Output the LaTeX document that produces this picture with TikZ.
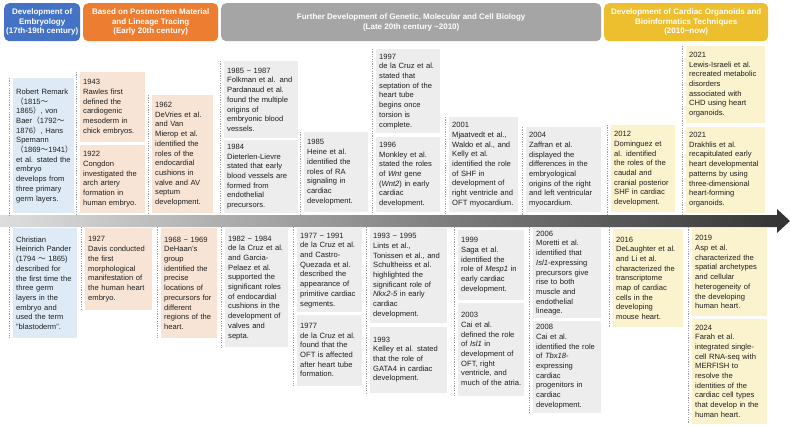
\documentclass[tikz,border=0pt]{standalone}
\usepackage{fontspec}
\setsansfont{Liberation Sans}
\newfontfamily\cjkfont{Noto Sans CJK SC}
\usetikzlibrary{positioning}

\definecolor{embblue}{HTML}{4472C4}
\definecolor{pmorange}{HTML}{ED7D31}
\definecolor{molgray}{HTML}{A5A5A5}
\definecolor{orgyellow}{HTML}{EDBF2E}
\definecolor{embfill}{HTML}{DEEBF7}
\definecolor{pmfill}{HTML}{F8E4D5}
\definecolor{molfill}{HTML}{EDEDED}
\definecolor{orgfill}{HTML}{FBF2CE}

\newcommand\fw[1]{{\cjkfont #1}}

\begin{document}
\begin{tikzpicture}[
  x=1pt, y=-1pt,
  font=\sffamily,
  phase/.style={rectangle, rounded corners=5pt, anchor=north west, inner xsep=1pt, inner ysep=2pt,
                text=white, align=center, font=\sffamily\bfseries\fontsize{8}{9.6}\selectfont},
  ev/.style={rectangle, anchor=north west, inner xsep=3pt, inner ysep=1.5pt, align=left,
             text=black!88, font=\sffamily\fontsize{7.6}{9.7}\selectfont},
  emb/.style={ev, fill=embfill},
  pm/.style={ev, fill=pmfill},
  mol/.style={ev, fill=molfill},
  org/.style={ev, fill=orgfill},
  sep/.style={draw=black!38, line width=0.6pt, dash pattern=on 1.2pt off 1.2pt}
]
\useasboundingbox (0,0) rectangle (790,426);

% phases
\node[phase, fill=embblue, minimum width=76pt, minimum height=38pt] (p1) at (4,3)
  {Development of\\Embryology\\(17th-19th century)};
\node[phase, fill=pmorange, minimum width=135pt, minimum height=38pt] (p2) at (83,3)
  {Based on Postmortem Material\\and Lineage Tracing\\(Early 20th century)};
\node[phase, fill=molgray, minimum width=380pt, minimum height=38pt] (p3) at (221,3)
  {Further Development of Genetic, Molecular and Cell Biology\\(Late 20th century \textasciitilde2010)};
\node[phase, fill=orgyellow, minimum width=164pt, minimum height=38pt] (p4) at (604,3)
  {Development of Cardiac Organoids and\\Bioinformatics Techniques\\(2010\textasciitilde now)};

% timeline
\shade[left color=black!13, right color=black!80]
  (0,215) -- (777,215) -- (777,209) -- (790,221) -- (777,233) -- (777,227) -- (0,227) -- cycle;
\coordinate (bandtop) at (0,215);
\coordinate (bandbot) at (0,227);

% upper events
\node[emb, text width=55pt, minimum height=135pt] (t1) at (13,78)
  {Robert Remark\\\fw{（}1815\fw{～}\\1865\fw{）}, von\\Baer\fw{（}1792\fw{～}\\1876\fw{）}, Hans\\Spemann\\\fw{（}1869\fw{～}1941\fw{）}\\et al. stated the\\embryo\\develops from\\three primary\\germ layers.};
\node[pm, text width=59pt, minimum height=70pt] (t2a) at (80,72)
  {1943\\Rawles first\\defined the\\cardiogenic\\mesoderm in\\chick embryos.};
\node[pm, text width=59pt, minimum height=68pt, below=2.5pt of t2a] (t2b)
  {1922\\Congdon\\investigated the\\arch artery\\formation in\\human embryo.};
\node[pm, text width=55pt, minimum height=118pt] (t3) at (152,95)
  {1962\\DeVries et al.\\and Van\\Mierop et al.\\identified the\\roles of the\\endocardial\\cushions in\\valve and AV\\septum\\development.};
\node[mol, text width=68pt, minimum height=77pt] (t4a) at (224,61)
  {1985 \textasciitilde\ 1987\\Folkman et al. and\\Pardanaud et al.\\found the multiple\\origins of\\embryonic blood\\vessels.};
\node[mol, text width=68pt, minimum height=73pt, below=1.5pt of t4a] (t4b)
  {1984\\Dieterlen-Lievre\\stated that early\\blood vessels are\\formed from\\endothelial\\precursors.};
\node[mol, text width=58pt, minimum height=80pt] (t5) at (304,132)
  {1985\\Heine et al.\\identified the\\roles of RA\\signaling in\\cardiac\\development.};
\node[mol, text width=58pt, minimum height=84pt] (t6a) at (376,49)
  {1997\\de la Cruz et al.\\stated that\\septation of the\\heart tube\\begins once\\torsion is\\complete.};
\node[mol, text width=58pt, minimum height=75pt, below=3.5pt of t6a] (t6b)
  {1996\\Monkley et al.\\stated the roles\\of \textit{Wnt} gene\\(\textit{Wnt2}) in early\\cardiac\\development.};
\node[mol, text width=63pt, minimum height=95pt] (t7) at (449,117)
  {2001\\Mjaatvedt et al.,\\Waldo et al., and\\Kelly et al.\\identified the role\\of SHF in\\development of\\right ventricle and\\OFT myocardium.};
\node[mol, text width=69pt, minimum height=85pt] (t8) at (526,127)
  {2004\\Zaffran et al.\\displayed the\\differences in the\\embryological\\origins of the right\\and left ventricular\\myocardium.};
\node[org, text width=58pt, minimum height=87pt] (t9) at (611,125)
  {2012\\Dominguez et\\al. identified\\the roles of the\\caudal and\\cranial posterior\\SHF in cardiac\\development.};
\node[org, text width=73pt, minimum height=77pt] (t10a) at (686,46)
  {2021\\Lewis-Israeli et al.\\recreated metabolic\\disorders\\associated with\\CHD using heart\\organoids.};
\node[org, text width=73pt, minimum height=86pt, below=3pt of t10a] (t10b)
  {2021\\Drakhlis et al.\\recapitulated early\\heart developmental\\patterns by using\\three-dimensional\\heart-forming\\organoids.};

% lower events
\node[emb, text width=58pt, minimum height=110pt] (b1) at (13,228)
  {Christian\\Heinrich Pander\\(1794 \fw{～} 1865)\\described for\\the first time the\\three germ\\layers in the\\embryo and\\used the term\\"blastoderm".};
\node[pm, text width=61pt, minimum height=82pt] (b2) at (85,228)
  {1927\\Davis conducted\\the first\\morphological\\manifestation of\\the human heart\\embryo.};
\node[pm, text width=50pt, minimum height=110pt] (b3) at (161,228)
  {1968 \textasciitilde\ 1969\\DeHaan's\\group\\identified the\\precise\\locations of\\precursors for\\different\\regions of the\\heart.};
\node[mol, text width=57pt, minimum height=119pt] (b4) at (225,228)
  {1982 \textasciitilde\ 1984\\de la Cruz et al.\\and Garcia-\\Pelaez et al.\\supported the\\significant roles\\of endocardial\\cushions in the\\development of\\valves and\\septa.};
\node[mol, text width=59pt, minimum height=84pt] (b5a) at (297,228)
  {1977 \textasciitilde\ 1991\\de la Cruz et al.\\and Castro-\\Quezada et al.\\described the\\appearance of\\primitive cardiac\\segments.};
\node[mol, text width=59pt, minimum height=71pt, below=2pt of b5a] (b5b)
  {1977\\de la Cruz et al.\\found that the\\OFT is affected\\after heart tube\\formation.};
\node[mol, text width=71pt, minimum height=95pt] (b6a) at (370,228)
  {1993 \textasciitilde\ 1995\\Lints et al.,\\Tonissen et al., and\\Schultheiss et al.\\highlighted the\\significant role of\\\textit{Nkx2-5} in early\\cardiac\\development.};
\node[mol, text width=71pt, minimum height=66pt, below=3pt of b6a] (b6b)
  {1993\\Kelley et al. stated\\that the role of\\GATA4 in cardiac\\development.};
\node[mol, text width=60pt, minimum height=70pt] (b7a) at (458,230)
  {1999\\Saga et al.\\identified the\\role of \textit{Mesp1} in\\early cardiac\\development.};
\node[mol, text width=60pt, minimum height=93pt, below=2pt of b7a] (b7b)
  {2003\\Cai et al.\\defined the role\\of \textit{Isl1} in\\development of\\OFT, right\\ventricle, and\\much of the atria.};
\node[mol, text width=62pt, minimum height=90pt] (b8a) at (533,228)
  {2006\\Moretti et al.\\identified that\\\textit{Isl1}-expressing\\precursors give\\rise to both\\muscle and\\endothelial\\lineage.};
\node[mol, text width=62pt, minimum height=92pt, below=2pt of b8a] (b8b)
  {2008\\Cai et al.\\identified the role\\of \textit{Tbx18}-\\expressing\\cardiac\\progenitors in\\cardiac\\development.};
\node[org, text width=64pt, minimum height=98pt] (b9) at (613,229)
  {2016\\DeLaughter et al.\\and Li et al.\\characterized the\\transcriptome\\map of cardiac\\cells in the\\developing\\mouse heart.};
\node[org, text width=69pt, minimum height=88pt] (b10a) at (692,228)
  {2019\\Asp et al.\\characterized the\\spatial archetypes\\and cellular\\heterogeneity of\\the developing\\human heart.};
\node[org, text width=69pt, minimum height=105pt, below=2pt of b10a] (b10b)
  {2024\\Farah et al.\\integrated single-\\cell RNA-seq with\\MERFISH to\\resolve the\\identities of the\\cardiac cell types\\that develop in the\\human heart.};

% column separators
\foreach \n in {t1,t2a,t3,t4a,t5,t6a,t7,t8,t9,t10a}
  \draw[sep] ([xshift=-3.5pt]\n.north west) -- ([xshift=-3.5pt]\n.north west |- bandtop);
\foreach \n/\m in {b1/b1,b2/b2,b3/b3,b4/b4,b5a/b5b,b6a/b6b,b7a/b7b,b8a/b8b,b9/b9,b10a/b10b}
  \draw[sep] ([xshift=-3.5pt]\n.north west |- bandbot) -- ([xshift=-3.5pt]\m.south west);
\end{tikzpicture}
\end{document}
